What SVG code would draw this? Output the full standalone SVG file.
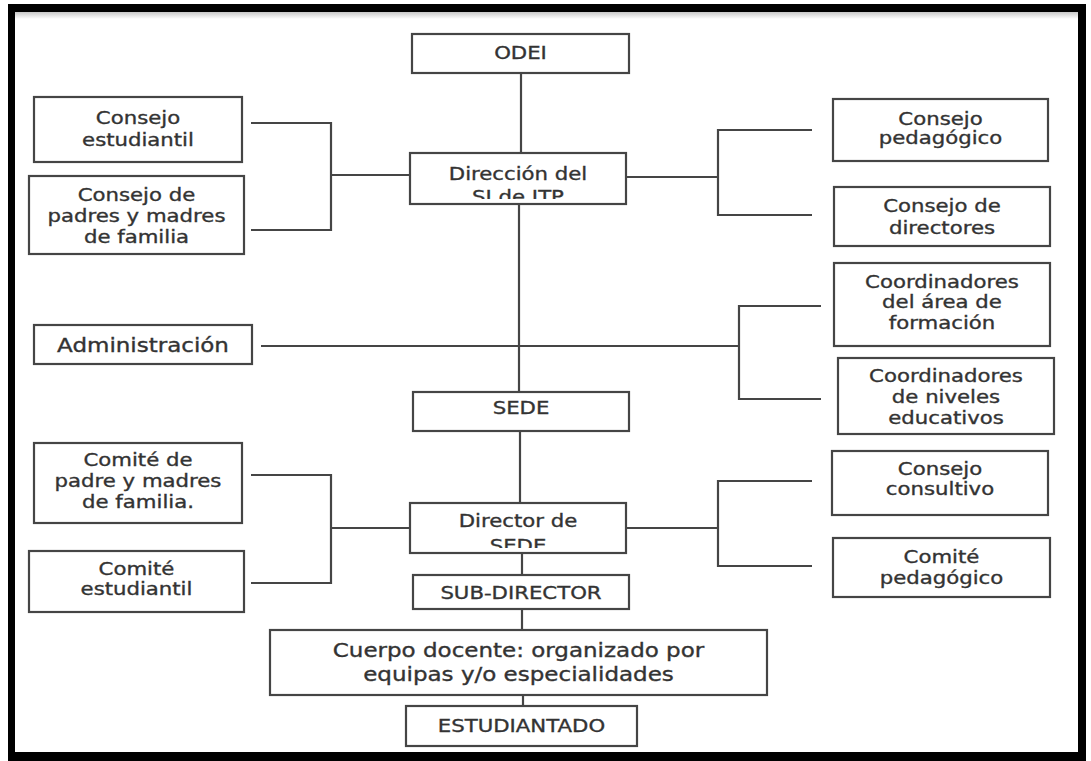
<svg xmlns="http://www.w3.org/2000/svg" width="1091" height="761" viewBox="0 0 1091 761">
<defs>
<style>
.box{fill:#fff;stroke:#454545;stroke-width:2.2}
.t{font-family:"DejaVu Sans",Verdana,sans-serif;font-size:18px;fill:#333;stroke:#333;stroke-width:0.35;text-anchor:middle}
.tl{font-size:19.5px}
.c{stroke:#454545;stroke-width:2.2;fill:none}
.frame{fill:#000}
</style>
<linearGradient id="shade" x1="0" y1="0" x2="0" y2="1">
<stop offset="0" stop-color="#c8c8c8"/>
<stop offset="1" stop-color="#ffffff"/>
</linearGradient>
<clipPath id="clipDir"><rect x="410" y="153" width="216" height="46"/></clipPath>
<clipPath id="clipDS"><rect x="410" y="503" width="216" height="45"/></clipPath>
</defs>
<rect x="0" y="0" width="1091" height="761" fill="#fff"/>
<g id="frame">
<rect x="15" y="12" width="1063" height="7" fill="url(#shade)"/>
<rect class="frame" x="8" y="4" width="1077" height="8"/>
<rect class="frame" x="8" y="4" width="7" height="757"/>
<rect class="frame" x="1078" y="4" width="8" height="757"/>
<rect class="frame" x="8" y="752" width="1078" height="9"/>
</g>
<g id="connectors">
<path class="c" d="M521 73V153"/>
<path class="c" d="M519 204V392"/>
<path class="c" d="M251 123H331V230H251M331 175H410"/>
<path class="c" d="M626 177H718M812 130H718V215H812"/>
<path class="c" d="M261 346H739M821 306H739V399H821"/>
<path class="c" d="M520 431V503"/>
<path class="c" d="M251 475H331V583H251M331 528H410"/>
<path class="c" d="M626 528H718M812 481H718V566H812"/>
<path class="c" d="M522 553V575"/>
<path class="c" d="M522 609V630"/>
<path class="c" d="M523 695V706"/>
</g>
<g id="odei"><rect class="box" x="412" y="34" width="217" height="39"/>
<text class="t" transform="translate(520.5 0) scale(1.18 1)"><tspan x="0" y="59">ODEI</tspan></text></g>
<g id="direccion"><rect class="box" x="410" y="153" width="216" height="51"/>
<g clip-path="url(#clipDir)"><text class="t" transform="translate(518 0) scale(1.18 1)"><tspan x="0" y="180">Dirección del</tspan><tspan x="0" y="203">SI de ITP</tspan></text></g></g>
<g id="consejo-estudiantil"><rect class="box" x="34" y="97" width="208" height="65"/>
<text class="t" transform="translate(138 0) scale(1.18 1)"><tspan x="0" y="124">Consejo</tspan><tspan x="0" y="146">estudiantil</tspan></text></g>
<g id="consejo-padres"><rect class="box" x="29" y="176" width="215" height="78"/>
<text class="t" transform="translate(136.5 0) scale(1.18 1)"><tspan x="0" y="201">Consejo de</tspan><tspan x="0" y="222">padres y madres</tspan><tspan x="0" y="243">de familia</tspan></text></g>
<g id="consejo-pedagogico"><rect class="box" x="833" y="99" width="215" height="62"/>
<text class="t" transform="translate(940.5 0) scale(1.18 1)"><tspan x="0" y="125">Consejo</tspan><tspan x="0" y="144">pedagógico</tspan></text></g>
<g id="consejo-directores"><rect class="box" x="834" y="187" width="216" height="59"/>
<text class="t" transform="translate(942 0) scale(1.18 1)"><tspan x="0" y="212">Consejo de</tspan><tspan x="0" y="234">directores</tspan></text></g>
<g id="coord-area"><rect class="box" x="834" y="263" width="216" height="83"/>
<text class="t" transform="translate(942 0) scale(1.18 1)"><tspan x="0" y="288">Coordinadores</tspan><tspan x="0" y="308">del área de</tspan><tspan x="0" y="329">formación</tspan></text></g>
<g id="administracion"><rect class="box" x="34" y="325" width="218" height="39"/>
<text class="t tl" transform="translate(143 0) scale(1.18 1)"><tspan x="0" y="352">Administración</tspan></text></g>
<g id="coord-niveles"><rect class="box" x="838" y="358" width="216" height="76"/>
<text class="t" transform="translate(946 0) scale(1.18 1)"><tspan x="0" y="382">Coordinadores</tspan><tspan x="0" y="403">de niveles</tspan><tspan x="0" y="424">educativos</tspan></text></g>
<g id="sede"><rect class="box" x="413" y="392" width="216" height="39"/>
<text class="t" transform="translate(521 0) scale(1.18 1)"><tspan x="0" y="414">SEDE</tspan></text></g>
<g id="comite-padre"><rect class="box" x="34" y="443" width="208" height="80"/>
<text class="t" transform="translate(138 0) scale(1.18 1)"><tspan x="0" y="466">Comité de</tspan><tspan x="0" y="487">padre y madres</tspan><tspan x="0" y="508">de familia.</tspan></text></g>
<g id="consejo-consultivo"><rect class="box" x="832" y="451" width="216" height="64"/>
<text class="t" transform="translate(940 0) scale(1.18 1)"><tspan x="0" y="475">Consejo</tspan><tspan x="0" y="495">consultivo</tspan></text></g>
<g id="director-sede"><rect class="box" x="410" y="503" width="216" height="50"/>
<g clip-path="url(#clipDS)"><text class="t" transform="translate(518 0) scale(1.18 1)"><tspan x="0" y="527">Director de</tspan><tspan x="0" y="552">SEDE</tspan></text></g></g>
<g id="comite-estudiantil"><rect class="box" x="29" y="551" width="215" height="61"/>
<text class="t" transform="translate(136.5 0) scale(1.18 1)"><tspan x="0" y="575">Comité</tspan><tspan x="0" y="595">estudiantil</tspan></text></g>
<g id="comite-pedagogico"><rect class="box" x="833" y="538" width="217" height="59"/>
<text class="t" transform="translate(941.5 0) scale(1.18 1)"><tspan x="0" y="563">Comité</tspan><tspan x="0" y="584">pedagógico</tspan></text></g>
<g id="sub-director"><rect class="box" x="413" y="575" width="216" height="34"/>
<text class="t" transform="translate(521 0) scale(1.18 1)"><tspan x="0" y="599">SUB-DIRECTOR</tspan></text></g>
<g id="cuerpo-docente"><rect class="box" x="270" y="630" width="497" height="65"/>
<text class="t tl" transform="translate(518.5 0) scale(1.18 1)"><tspan x="0" y="657">Cuerpo docente: organizado por</tspan><tspan x="0" y="681">equipas y/o especialidades</tspan></text></g>
<g id="estudiantado"><rect class="box" x="406" y="706" width="231" height="40"/>
<text class="t" transform="translate(521.5 0) scale(1.18 1)"><tspan x="0" y="732">ESTUDIANTADO</tspan></text></g>
</svg>
